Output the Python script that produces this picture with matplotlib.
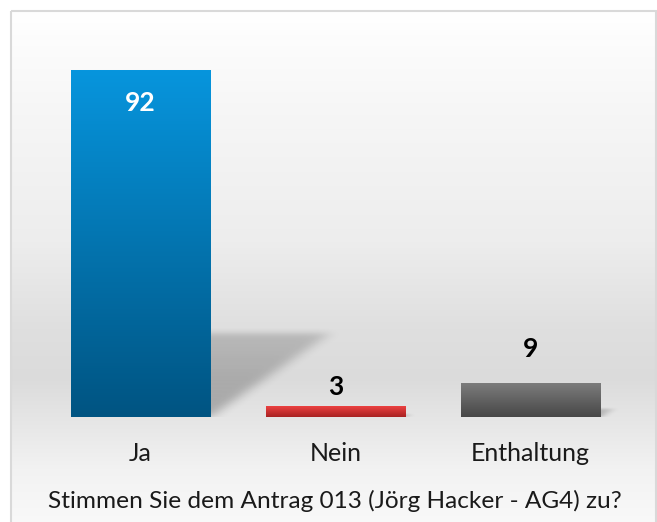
import numpy as np
import matplotlib
matplotlib.use("Agg")
import matplotlib.pyplot as plt
from matplotlib.colors import LinearSegmentedColormap
from matplotlib.patches import Rectangle

categories = ["Ja", "Nein", "Enthaltung"]
values = [92, 3, 9]
title = "Stimmen Sie dem Antrag 013 (Jörg Hacker - AG4) zu?"

top_colors = ["#0795dd", "#f24444", "#7c7c7c"]
bottom_colors = ["#005482", "#a82222", "#474747"]
label_colors = ["white", "black", "black"]

W, H = 657, 522
fig = plt.figure(figsize=(W / 100, H / 100), dpi=100)
fig.patch.set_facecolor("white")

# background frame with vertical gradient
bg = fig.add_axes([0, 0, 1, 1])
bg.set_xlim(0, W)
bg.set_ylim(H, 0)
bg.axis("off")
ys = np.linspace(0, 1, 256)
stops_y = [0.0, 0.2, 0.45, 0.62, 0.72, 0.8, 0.9, 1.0]
stops_v = [1.0, 0.965, 0.93, 0.875, 0.86, 0.9, 0.95, 0.975]
grad = np.interp(ys, stops_y, stops_v)[:, None]
bg.imshow(np.dstack([grad, grad, grad]), extent=(11, 656, H, 11), aspect="auto", zorder=0)
bg.add_patch(Rectangle((11, 11), 645, H, fill=False, edgecolor="#d9d9d9", lw=1.5, zorder=1))

ax = fig.add_axes([43 / W, (H - 417) / H, (628 - 43) / W, 377 / H])
ax.patch.set_alpha(0)
x = np.arange(len(categories))
bw = 0.713
bars = ax.bar(x, values, width=bw, color="none", zorder=3)
ax.set_xlim(-0.5, len(categories) - 0.5)
ax.set_ylim(0, 100)

def box_blur(a, k, axis):
    ker = np.ones(k) / k
    return np.apply_along_axis(lambda r: np.convolve(r, ker, mode="same"), axis, a)

for b, tc, bc in zip(bars, top_colors, bottom_colors):
    x0, w, h = b.get_x(), b.get_width(), b.get_height()
    cmap = LinearSegmentedColormap.from_list("g", [bc, tc])
    img = ax.imshow(np.linspace(0, 1, 128)[:, None], cmap=cmap, origin="lower",
                    extent=(x0, x0 + w, 0, h), aspect="auto", zorder=3)
    img.set_clip_path(b)
    # soft shadow (sheared projection of bar)
    sh = 0.24 * h
    s = 0.615 * sh / (0.24 * 92)
    gx = np.linspace(x0, x0 + w + s + 0.25, 400)
    gy = np.linspace(-3, sh + 5, 220)
    GX, GY = np.meshgrid(gx, gy)
    t = np.clip(GY / max(sh, 1e-6), 0, 1)
    left = x0 + s * t
    right = x0 + w + s * t
    inside = ((GX >= left) & (GX <= right) & (GY >= 0) & (GY <= sh)).astype(float)
    inside *= (1 - 0.35 * t)
    for _ in range(3):
        inside = box_blur(inside, 17, 1)
        inside = box_blur(inside, 11, 0)
    rgba = np.zeros(inside.shape + (4,))
    rgba[..., 3] = inside * 0.26
    ax.imshow(rgba, extent=(gx[0], gx[-1], gy[0], gy[-1]), origin="lower",
              aspect="auto", zorder=2, interpolation="bilinear")

ax.set_xlim(-0.5, len(categories) - 0.5)
ax.set_ylim(0, 100)

font = "Lato"
label_offsets = [-33, 19, 34]
for b, v, c, off in zip(bars, values, label_colors, label_offsets):
    ax.annotate(str(v), (b.get_x() + b.get_width() / 2, b.get_height()),
                xytext=(0, off * 0.72), textcoords="offset points",
                ha="center", va="center", fontsize=19, fontweight="bold",
                color=c, family=font, zorder=5)

ax.set_xticks(x)
ax.set_xticklabels(categories, fontsize=18, family=font, color="#1a1a1a")
ax.tick_params(axis="x", length=0, pad=18)
ax.set_yticks([])
for sp in ax.spines.values():
    sp.set_visible(False)

fig.text(335 / W, (H - 501) / H, title, ha="center", va="center",
         fontsize=17.6, family=font, color="#1a1a1a")

fig.savefig("out.png", dpi=100)
